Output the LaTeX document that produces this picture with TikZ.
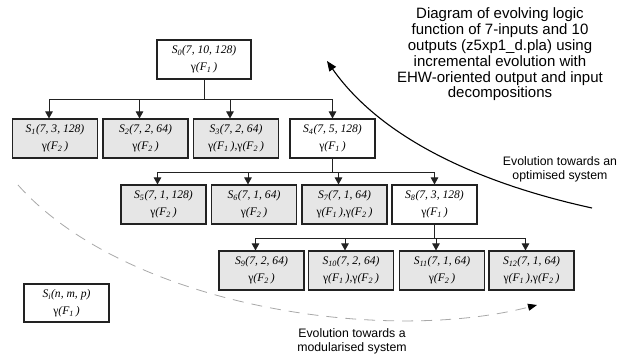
\documentclass[tikz,border=0pt]{standalone}
\usepackage{fontspec}
\setmainfont{Liberation Serif}
\newfontfamily\arialfont{Liberation Sans}
\usetikzlibrary{arrows.meta}
\definecolor{stateGray}{HTML}{E6E6E6}
\definecolor{lineDark}{HTML}{222222}
\definecolor{dashGray}{HTML}{A8A8A8}
\newcommand{\gone}{\textup{γ}(F\textsubscript{1}\,)}
\newcommand{\gtwo}{\textup{γ}(F\textsubscript{2}\,)}
\tikzset{
    sbox/.style={draw=lineDark, line width=1.1pt, minimum width=85pt, minimum height=39pt, inner sep=1pt, align=center, font=\fontsize{11.6}{17}\selectfont\itshape},
    sline/.style={-{Triangle[length=7pt,width=7.5pt]}, line width=1pt, draw=lineDark},
    evonote/.style={align=center, font=\arialfont\fontsize{12.3}{14.5}\selectfont},
    titletext/.style={align=center, font=\arialfont\fontsize{15}{15.8}\selectfont}
}

\begin{document}
\begin{tikzpicture}[x=1pt, y=-1pt]
    \useasboundingbox (0,0) rectangle (630,358);
    % root system
    \node[sbox, fill=white, minimum width=94pt] (S0) at (204,59.5) {S\textsubscript{0}(7, 10, 128)\\\gone};
    % first decomposition
    \foreach \i/\x/\fc/\dx/\sz/\fn in {1/55/stateGray/-6/{7, 3, 128}/\gtwo, 2/145.5/stateGray/-6/{7, 2, 64}/\gtwo, 3/236/stateGray/-6/{7, 2, 64}/{\gone,\gtwo}, 4/332.5/white/0/{7, 5, 128}/\gone}{
        \node[sbox, fill=\fc] (S\i) at (\x,138.5) {S\textsubscript{\i}(\sz)\\\fn};
        \draw[sline] (S0.south) -- ++(0,20) -| ([xshift=\dx pt]S\i.north);
    }
    % second decomposition
    \foreach \i/\x/\fc/\dx/\sz/\fn in {5/163.5/stateGray/-6/{7, 1, 128}/\gtwo, 6/254/stateGray/-6/{7, 1, 64}/\gtwo, 7/344.5/stateGray/-6/{7, 1, 64}/{\gone,\gtwo}, 8/434.5/white/0/{7, 3, 128}/\gone}{
        \node[sbox, fill=\fc] (S\i) at (\x,204.5) {S\textsubscript{\i}(\sz)\\\fn};
        \draw[sline] (S4.south) -- ++(0,14) -| ([xshift=\dx pt]S\i.north);
    }
    % third decomposition
    \foreach \i/\x/\sz/\fn in {9/261.5/{7, 2, 64}/\gtwo, 10/351/{7, 2, 64}/{\gone,\gtwo}, 11/442/{7, 1, 64}/\gtwo, 12/531.5/{7, 1, 64}/{\gone,\gtwo}}{
        \node[sbox, fill=stateGray] (S\i) at (\x,270.5) {S\textsubscript{\i}(\sz)\\\fn};
        \draw[sline] (S8.south) -- ++(0,14) -| ([xshift=-6pt]S\i.north);
    }
    % legend box
    \node[sbox, fill=white, minimum height=38pt] (Si) at (66.5,303) {S\textsubscript{i}(n, m, p)\\\gone};

    % evolution directions
    \coordinate (optStart) at (592,208);
    \coordinate (optEnd) at (327,61);
    \draw[line width=1.1pt, -{Triangle[length=10pt,width=8pt]}] (optStart) .. controls (464,180) and (376,131) .. (optEnd);
    \coordinate (modStart) at (18,185);
    \coordinate (modEnd) at (537,305);
    \draw[dashGray, line width=0.8pt, dash pattern=on 11pt off 8pt, -{Triangle[length=9pt,width=7pt,color=black]}] (modStart) .. controls (125,305) and (380,345) .. (modEnd);

    \node[titletext] (title) at (500,54.5) {Diagram of evolving logic\\function of 7-inputs and 10\\outputs (z5xp1\_d.pla) using\\incremental evolution with\\EHW-oriented output and input\\decompositions};
    \node[evonote] (optNote) at (560,169.5) {Evolution towards an\\optimised system};
    \node[evonote] (modNote) at (352,341.5) {Evolution towards a\\modularised system};
\end{tikzpicture}
\end{document}
